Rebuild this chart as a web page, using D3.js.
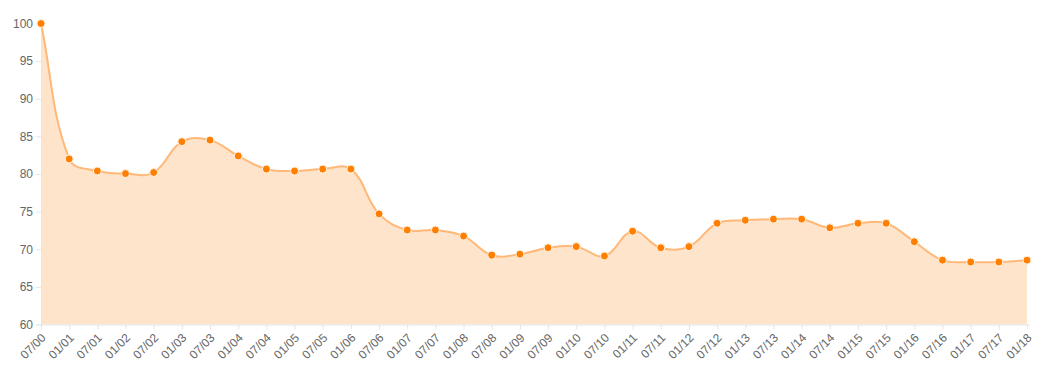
<!DOCTYPE html>
<html><head><meta charset="utf-8">
<script src="https://cdn.jsdelivr.net/npm/d3@7"></script>
<style>
html,body{margin:0;padding:0;background:#fff;}
svg text{font-family:"Liberation Sans",Arial,Helvetica,sans-serif;font-size:12px;fill:#666;}
</style></head>
<body><svg id="c" width="1042" height="380"></svg>
<script>
const labels = ["07/00","01/01","07/01","01/02","07/02","01/03","07/03","01/04","07/04","01/05","07/05","01/06","07/06","01/07","07/07","01/08","07/08","01/09","07/09","01/10","07/10","01/11","07/11","01/12","07/12","01/13","07/13","01/14","07/14","01/15","07/15","01/16","07/16","01/17","07/17","01/18"];
const values = [100,82.0,80.4,80.05,80.2,84.3,84.5,82.4,80.65,80.4,80.65,80.65,74.7,72.55,72.55,71.75,69.2,69.35,70.2,70.35,69.1,72.4,70.2,70.35,73.45,73.85,74.0,74.0,72.85,73.45,73.45,71.0,68.55,68.3,68.3,68.55];
const yTicks = [60,65,70,75,80,85,90,95,100];

const svg = d3.select("#c");
const L = 41, R = 1027, T = 23.5, B = 324.5;
const x = d3.scalePoint().domain(labels).range([L, R]);
const y = d3.scaleLinear().domain([60, 100]).range([B, T]);

// y axis
const ya = svg.append("g").attr("transform", `translate(${L},0)`)
  .call(d3.axisLeft(y).tickValues(yTicks).tickSize(5).tickPadding(3));
ya.select(".domain").attr("stroke", "#e6e6e6");
ya.selectAll(".tick line").attr("stroke", "#e6e6e6");
ya.selectAll("text").attr("fill", "#666").style("font-size","12px");

// x axis
const xa = svg.append("g").attr("transform", `translate(0,${B})`)
  .call(d3.axisBottom(x).tickSize(5).tickSizeOuter(0));
xa.select(".domain").attr("stroke", "#e6e6e6").attr("d", `M${L},0.5H${R+3}`);
xa.selectAll(".tick line").attr("stroke", "#e6e6e6");
xa.selectAll("text").attr("fill", "#666").style("font-size","12px")
  .attr("text-anchor", "end").attr("dy", "0.35em").attr("y", 0)
  .attr("transform", "translate(2,11) rotate(-45)");

// Chart.js-like spline
const pts = values.map((v, i) => ({x: x(labels[i]), y: y(v)}));
const t = 0.4;
const cps = pts.map((cur, i) => {
  const prev = pts[i-1] || cur, next = pts[i+1] || cur;
  const d01 = Math.hypot(cur.x-prev.x, cur.y-prev.y);
  const d12 = Math.hypot(next.x-cur.x, next.y-cur.y);
  let s01 = d01/(d01+d12), s12 = d12/(d01+d12);
  if (!isFinite(s01)) s01 = 0; if (!isFinite(s12)) s12 = 0;
  const fa = t*s01, fb = t*s12;
  return {
    px: cur.x - fa*(next.x-prev.x), py: cur.y - fa*(next.y-prev.y),
    nx: cur.x + fb*(next.x-prev.x), ny: cur.y + fb*(next.y-prev.y)
  };
});
cps.forEach(c => { c.py = Math.max(T, Math.min(B, c.py)); c.ny = Math.max(T, Math.min(B, c.ny)); });
function linePath(p) {
  p.moveTo(pts[0].x, pts[0].y);
  for (let i = 1; i < pts.length; i++) {
    p.bezierCurveTo(cps[i-1].nx, cps[i-1].ny, cps[i].px, cps[i].py, pts[i].x, pts[i].y);
  }
  return p;
}
const area = linePath(d3.path());
area.lineTo(pts[pts.length-1].x, B); area.lineTo(pts[0].x, B); area.closePath();
svg.insert("path", "g").attr("d", area.toString()).attr("fill", "#fee4cb");
svg.append("path").attr("d", linePath(d3.path()).toString())
  .attr("fill", "none").attr("stroke", "#ffb877").attr("stroke-width", 2);

svg.append("g").selectAll("circle").data(values).join("circle")
  .attr("cx", (d, i) => x(labels[i])).attr("cy", d => y(d)).attr("r", 4)
  .attr("fill", "#ff7f00").attr("stroke", "#fff5ea").attr("stroke-width", 1);
</script></body></html>
